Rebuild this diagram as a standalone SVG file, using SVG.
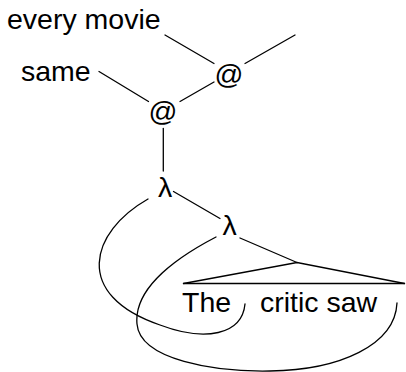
<svg xmlns="http://www.w3.org/2000/svg" width="406" height="372" viewBox="0 0 406 372">
<style>
text{font-family:"Liberation Sans",Arial,sans-serif;font-size:28.5px;fill:#000}
.c{text-anchor:middle}
.l{stroke:#000;stroke-width:1.3;fill:none;stroke-linecap:round}
</style>
<rect width="406" height="372" fill="#fff"/>
<g id="connectors" class="l">
<line x1="165" y1="35" x2="214" y2="63.5"/>
<line x1="245" y1="63.5" x2="295" y2="35"/>
<line x1="99" y1="71.5" x2="148.5" y2="101.5"/>
<line x1="180" y1="101.5" x2="214" y2="82"/>
<line x1="163.3" y1="128.5" x2="163.3" y2="171"/>
<line x1="173.5" y1="191.5" x2="220" y2="218.5"/>
<line x1="240" y1="238" x2="297" y2="262.5"/>
<path d="M148,199 C90,232 72,295 160,325 C205,342 242,335 245,304"/>
<path d="M216,237 C168,262 134,292 137,324 C140,360 215,372 270,371 C340,370 395,345 397,303"/>
</g>
<g id="node-every-movie"><text x="7" y="29">every movie</text></g>
<g id="node-same"><text x="21" y="81">same</text></g>
<g id="node-app1"><text class="c" x="229" y="84">@</text></g>
<g id="node-app2"><text class="c" x="163" y="121">@</text></g>
<g id="node-lambda1"><text class="c" x="165" y="197">λ</text></g>
<g id="node-lambda2"><text class="c" x="229.5" y="234.5">λ</text></g>
<g id="node-triangle">
<polyline class="l" points="183.5,283.5 297,262.5 404.5,283.5"/>
<line class="l" x1="183.5" y1="283.5" x2="404.5" y2="283.5"/>
<text x="182" y="312">The</text>
<text x="260" y="312">critic saw</text>
</g>
</svg>
